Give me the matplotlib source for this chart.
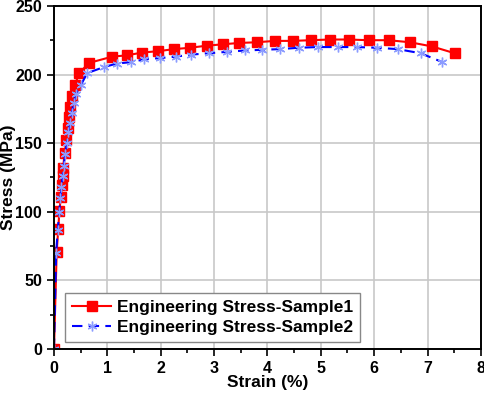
import numpy as np
import matplotlib.pyplot as plt
from matplotlib.ticker import MultipleLocator

plt.rcParams['font.family'] = ['Liberation Sans', 'DejaVu Sans']
plt.rcParams['font.weight'] = 'bold'

# sample 1 (strain %, stress MPa)
strain1 = [0, 0.05, 0.08, 0.10, 0.13, 0.15, 0.16, 0.17, 0.20, 0.23, 0.26, 0.28, 0.30,
           0.34, 0.39, 0.47, 0.66, 1.09, 1.37, 1.65, 1.95, 2.25, 2.55, 2.86, 3.16,
           3.47, 3.80, 4.14, 4.47, 4.81, 5.17, 5.52, 5.90, 6.27, 6.67, 7.08, 7.51]
stress1 = [0, 70.7, 87.5, 100.5, 111, 119.5, 126, 132, 143, 152, 161, 169, 176,
           184, 192, 201, 208.5, 213, 214, 216, 217, 218.5, 219.5, 221, 222,
           223, 223.5, 224.5, 224.5, 225, 225.5, 225.5, 225, 225, 223.5, 220.5, 215.5]

# sample 2
strain2 = [0, 0.04, 0.07, 0.10, 0.12, 0.14, 0.16, 0.18, 0.21, 0.24, 0.27, 0.30, 0.33,
           0.37, 0.41, 0.50, 0.62, 0.94, 1.18, 1.44, 1.69, 1.99, 2.28, 2.57, 2.90,
           3.24, 3.58, 3.90, 4.23, 4.59, 4.94, 5.32, 5.67, 6.05, 6.44, 6.87, 7.28]
stress2 = [0, 70, 87, 100, 110, 118, 126, 133, 142, 150, 158, 165, 172,
           179, 186, 192, 201, 205.5, 208, 209, 211, 212, 213, 214.5, 215.5,
           216.5, 217.5, 218, 218.5, 219.5, 220, 220, 220, 219.5, 218.5, 215.5, 209]

fig = plt.figure(figsize=(4.84, 3.93), dpi=100)
ax = fig.add_axes([0.1116, 0.112, 0.882, 0.873])

ax.plot(strain1, stress1, '-', color='red', lw=1.5, marker='s', ms=6.5,
        label='Engineering Stress-Sample1')
ax.plot(strain2, stress2, '--', color='blue', lw=1.5, dashes=(5, 3), marker=(6, 2, 0), ms=7,
        mec='#8c9cff', mew=1.0, label='Engineering Stress-Sample2')

ax.set_xlim(0, 8)
ax.set_ylim(0, 250)
ax.xaxis.set_major_locator(MultipleLocator(1))
ax.xaxis.set_minor_locator(MultipleLocator(0.5))
ax.yaxis.set_major_locator(MultipleLocator(50))
ax.yaxis.set_minor_locator(MultipleLocator(25))
ax.grid(True, which='major', color='#c8c8c8', lw=1.2)
ax.set_axisbelow(True)
ax.tick_params(which='major', direction='out', length=5, width=1.2, labelsize=11.5)
ax.tick_params(which='minor', direction='out', length=3, width=1.2)
for s in ax.spines.values():
    s.set_linewidth(1.4)

ax.set_xlabel('Strain (%)', fontsize=12.5, fontweight='bold')
ax.set_ylabel('Stress (MPa)', fontsize=12.5, fontweight='bold')
ax.xaxis.set_label_coords(0.5, -0.076)
ax.yaxis.set_label_coords(-0.088, 0.5)

leg = ax.legend(loc='lower left', bbox_to_anchor=(0.026, 0.02), borderaxespad=0,
                fontsize=12.5, fancybox=False, edgecolor='#888888', framealpha=1,
                handlelength=2.25, borderpad=0.4, labelspacing=0.3, handletextpad=0.35)
leg.get_frame().set_linewidth(1.0)

fig.savefig('out.png', dpi=100)
